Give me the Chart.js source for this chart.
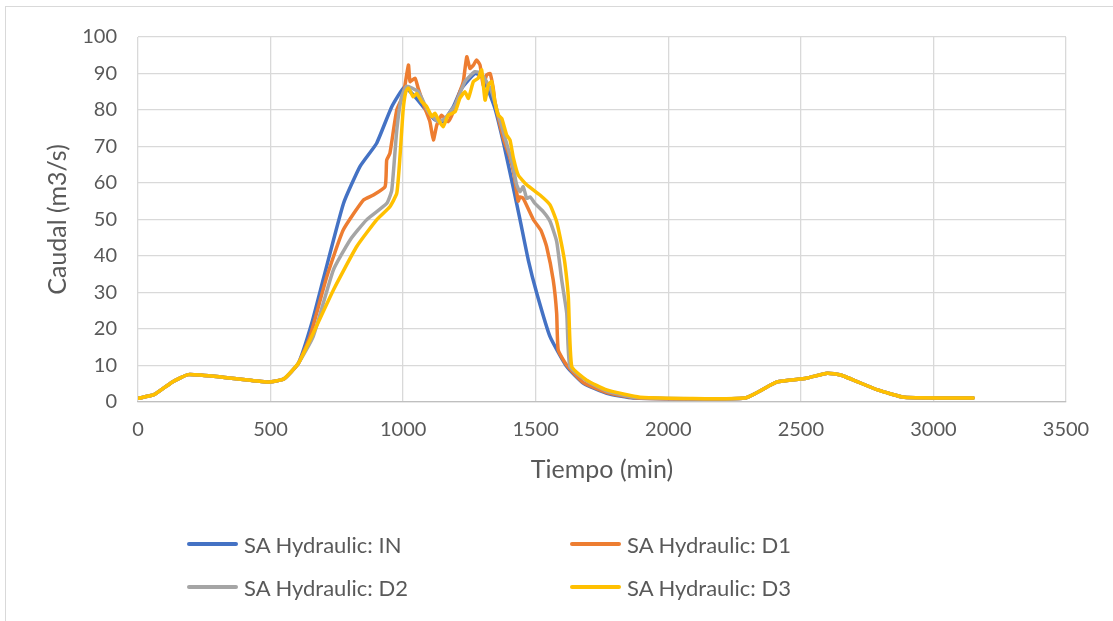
<!DOCTYPE html>
<html>
<head>
<meta charset="utf-8">
<script src="https://cdn.jsdelivr.net/npm/chart.js@4"></script>
<style>
  html, body { margin: 0; padding: 0; background: #fff; overflow: hidden; }
  #wrap { position: relative; width: 1113px; height: 621px; }
  #frame { position: absolute; left: 5px; top: 6px; width: 1200px; height: 700px; border: 1px solid #d9d9d9; }
  #chart { position: absolute; left: 0; top: 0; }
  .item { position: absolute; display: flex; align-items: center; white-space: nowrap;
          font-family: Lato, sans-serif; font-size: 22px; color: #595959; height: 26px; }
  .swatch { display: inline-block; width: 51px; height: 4px; border-radius: 2px; margin-right: 6px; }
</style>
</head>
<body>
<div id="wrap">
  <div id="frame"></div>
  <canvas id="chart" width="1113" height="621"></canvas>
  <div id="legend"></div>
</div>
<script>
// series labels and colours
const seriesNames = ['SA Hydraulic: IN', 'SA Hydraulic: D1', 'SA Hydraulic: D2', 'SA Hydraulic: D3'];
const seriesColors = ['#4472C4', '#ED7D31', '#A5A5A5', '#FFC000'];

// axis ticks
const xTicks = [0, 500, 1000, 1500, 2000, 2500, 3000, 3500];
const yTicks = [0, 10, 20, 30, 40, 50, 60, 70, 80, 90, 100];

// SA Hydraulic: IN
const inTime = [0, 60, 130, 190, 320, 490, 550, 605, 655, 700, 775, 837, 900, 957, 1005, 1040, 1080, 1120, 1150, 1190,
  1220, 1271, 1300, 1346, 1380, 1416, 1441, 1472, 1504, 1554, 1617, 1680, 1768, 1868, 2290, 2410, 2520, 2600, 2650, 2790,
  2890, 3150];
const inFlow = [1.0, 2.0, 5.5, 7.5, 6.8, 5.5, 6.3, 10.6, 21.5, 34, 54.4, 64.5, 70.9, 80.9, 86.3, 84, 80.5, 77.3, 76.8, 81,
  85.9, 90, 89, 80.5, 70.5, 58.5, 49.9, 38.9, 29.8, 17.9, 9.7, 5.1, 2.4, 1.1, 1.1, 5.5, 6.5, 7.9, 7.4, 3.3,
  1.3, 1.1];

// SA Hydraulic: D1
const d1Time = [0, 60, 130, 190, 320, 490, 550, 605, 649, 712, 774, 850, 888, 932, 938, 950, 976, 1000, 1020, 1026,
  1045, 1057, 1082, 1101, 1114, 1127, 1145, 1170, 1189, 1214, 1227, 1240, 1252, 1265, 1277, 1290, 1302, 1315, 1328, 1340,
  1346, 1378, 1403, 1416, 1428, 1434, 1441, 1453, 1491, 1520, 1541, 1566, 1579, 1585, 1617, 1680, 1768, 1880, 2290, 2410,
  2520, 2600, 2650, 2790, 2890, 3150];
const d1Flow = [1.0, 2.0, 5.5, 7.5, 6.8, 5.5, 6.3, 10.6, 18, 34.3, 47.1, 55.3, 56.7, 59, 66.3, 68.1, 80, 84, 92.3, 87.8,
  88.7, 85.9, 80.5, 76.8, 71.8, 75.9, 78.6, 76.8, 79.5, 85, 87.8, 94.6, 91.4, 92.3, 93.7, 92.3, 86.8, 89.6, 90, 85.9,
  82.3, 72.2, 66.8, 63.1, 57.6, 55, 56.2, 55.8, 50, 47, 42.6, 33.4, 24.3, 14.2, 10.1, 5.3, 2.6, 1.1, 1.1, 5.5,
  6.5, 7.9, 7.4, 3.3, 1.3, 1.1];

// SA Hydraulic: D2
const d2Time = [0, 60, 130, 190, 320, 490, 550, 605, 661, 737, 800, 862, 938, 957, 976, 994, 1013, 1057, 1095, 1133,
  1158, 1196, 1233, 1271, 1296, 1334, 1359, 1403, 1416, 1428, 1441, 1453, 1466, 1479, 1497, 1529, 1554, 1579, 1598, 1617,
  1629, 1692, 1768, 1880, 2290, 2410, 2520, 2600, 2650, 2790, 2890, 3150];
const d2Flow = [1.0, 2.0, 5.5, 7.5, 6.8, 5.5, 6.3, 10.6, 18, 36.2, 44.4, 49.9, 54.4, 58, 74.5, 83.6, 86.5, 85, 79.5, 76.8,
  77.7, 81.4, 87.8, 90.5, 90, 85, 78.6, 67.7, 64, 59.5, 57.6, 59, 55.8, 56.2, 54.4, 52.1, 49.5, 44, 33.4, 24.3,
  9.7, 5.8, 3, 1.2, 1.1, 5.5, 6.5, 7.9, 7.4, 3.3, 1.3, 1.1];

// SA Hydraulic: D3
const d3Time = [0, 60, 130, 190, 320, 490, 550, 605, 649, 737, 825, 900, 950, 976, 988, 1000, 1010, 1020, 1038, 1051,
  1070, 1089, 1108, 1120, 1133, 1151, 1170, 1196, 1214, 1233, 1246, 1265, 1283, 1296, 1309, 1321, 1334, 1346, 1359, 1372,
  1390, 1403, 1416, 1434, 1466, 1516, 1554, 1579, 1598, 1610, 1623, 1636, 1692, 1768, 1893, 2290, 2410, 2520, 2600, 2650,
  2790, 2890, 3150];
const d3Flow = [1.0, 2.0, 5.5, 7.5, 6.8, 5.5, 6.3, 10.6, 17, 30.7, 42.6, 49.9, 53.5, 57.2, 67.2, 80, 85, 86, 83.6, 84.5,
  82.3, 80.9, 78.2, 79.1, 77.3, 75.4, 78.6, 79.5, 83.2, 85, 83.2, 87.8, 88.7, 91, 82.7, 86.8, 87.8, 82.3, 78.6, 77.7,
  73.2, 71.8, 66.8, 62.2, 59.5, 56.7, 54, 49.4, 43, 38, 28.8, 9.7, 6, 3.3, 1.3, 1.1, 5.5, 6.5, 7.9, 7.4,
  3.3, 1.3, 1.1];

const seriesTimes = [inTime, d1Time, d2Time, d3Time];
const seriesFlows = [inFlow, d1Flow, d2Flow, d3Flow];

const textColor = '#595959';
const gridColor = '#d9d9d9';

function toPoints(times, flows) {
  return times.map((t, i) => ({ x: t, y: flows[i] }));
}

const datasets = seriesNames.map((name, i) => ({
  label: name,
  data: toPoints(seriesTimes[i], seriesFlows[i]),
  borderColor: seriesColors[i],
  backgroundColor: seriesColors[i],
  borderWidth: 3.5,
  borderCapStyle: 'round',
  borderJoinStyle: 'round',
  pointRadius: 0,
  tension: 0.15,
  fill: false,
  order: seriesNames.length - i   // later series drawn on top, like Excel
}));

new Chart(document.getElementById('chart'), {
  type: 'line',
  data: { datasets },
  options: {
    responsive: false,
    animation: false,
    layout: { padding: { left: 43, top: 37, right: 47, bottom: 136 } },
    plugins: { legend: { display: false }, tooltip: { enabled: false } },
    scales: {
      x: {
        type: 'linear',
        min: 0,
        max: 3500,
        afterBuildTicks: (scale) => { scale.ticks = xTicks.map(v => ({ value: v })); },
        afterFit: (scale) => { scale.height = 83; },
        ticks: { color: textColor, font: { family: 'Lato', size: 20 }, padding: 16, maxRotation: 0,
                 callback: (v) => String(v) },
        grid: { color: gridColor, lineWidth: 1.3, drawTicks: false },
        border: { color: '#bfbfbf', width: 1.3 },
        title: { display: true, text: 'Tiempo (min)', color: textColor, font: { family: 'Lato', size: 25 }, padding: 0 }
      },
      y: {
        min: 0,
        max: 100,
        afterBuildTicks: (scale) => { scale.ticks = yTicks.map(v => ({ value: v })); },
        afterFit: (scale) => { scale.width = 95; },
        ticks: { color: textColor, font: { family: 'Lato', size: 20 }, padding: 21 },
        grid: { color: gridColor, lineWidth: 1.3, drawTicks: false },
        border: { display: false },
        title: { display: true, text: 'Caudal (m3/s)', color: textColor, font: { family: 'Lato', size: 25 }, padding: 0 }
      }
    }
  }
});

// legend in two columns, like the Excel one
const legendPos = [[187, 544], [570, 544], [187, 587], [570, 587]];
const legend = document.getElementById('legend');
seriesNames.forEach((name, i) => {
  const item = document.createElement('div');
  item.className = 'item';
  item.style.left = legendPos[i][0] + 'px';
  item.style.top = (legendPos[i][1] - 13) + 'px';
  const sw = document.createElement('span');
  sw.className = 'swatch';
  sw.style.background = seriesColors[i];
  item.appendChild(sw);
  item.appendChild(document.createTextNode(name));
  legend.appendChild(item);
});
</script>
</body>
</html>
